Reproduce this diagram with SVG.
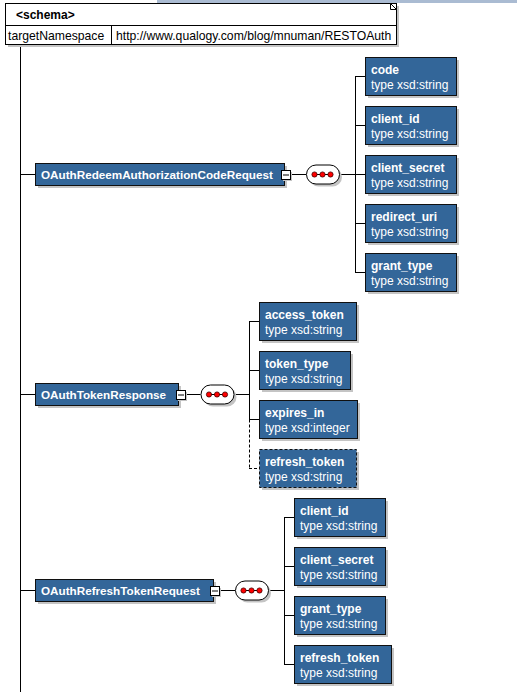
<svg xmlns="http://www.w3.org/2000/svg" width="517" height="692" viewBox="0 0 517 692">
<style>
.bg{fill:#ffffff}
.sh{fill:#c4c4c4}
.box{fill:#336699;stroke:#101010;stroke-width:1}
.dbox{fill:#336699;stroke:#101010;stroke-width:1;stroke-dasharray:3,2}
.nm{font-family:"Liberation Sans",Arial,sans-serif;font-size:12px;font-weight:bold;fill:#ffffff}
.el{font-family:"Liberation Sans",Arial,sans-serif;font-size:11.7px;font-weight:bold;fill:#ffffff}
.ty{font-family:"Liberation Sans",Arial,sans-serif;font-size:12px;fill:#ffffff}
.sc{font-family:"Liberation Sans",Arial,sans-serif;font-size:12.2px;fill:#000000}
.scb{font-family:"Liberation Sans",Arial,sans-serif;font-size:12px;font-weight:bold;fill:#000000}
.ln{stroke:#000000;stroke-width:1;fill:none}
.dl{stroke:#000000;stroke-width:1;fill:none;stroke-dasharray:3,2}
.wb{fill:#ffffff;stroke:#000000;stroke-width:1}
.dot{fill:#ff0000;stroke:#400000;stroke-width:0.8}
</style>
<defs>
<g id="seq">
<rect x="3" y="3" width="33" height="19" rx="9.5" class="sh"/>
<rect x="0.5" y="0.5" width="33" height="19" rx="9.5" class="wb"/>
<line x1="8" y1="10" x2="25" y2="10" class="ln"/>
<circle cx="8.5" cy="10" r="2.6" class="dot"/>
<circle cx="16.5" cy="10" r="2.6" class="dot"/>
<circle cx="24.5" cy="10" r="2.6" class="dot"/>
</g>
<g id="minus">
<rect x="2" y="2" width="9" height="9" class="sh"/>
<rect x="0.5" y="0.5" width="9" height="9" class="wb"/>
<line x1="2" y1="5" x2="8" y2="5" class="ln"/>
</g>
</defs>
<rect x="0" y="0" width="517" height="692" class="bg"/>
<rect x="157" y="0" width="360" height="3" fill="#aabbd2"/>

<g id="connectors">
<line x1="20.5" y1="44" x2="20.5" y2="692" class="ln"/>
<line x1="20" y1="174.5" x2="35" y2="174.5" class="ln"/>
<line x1="20" y1="394.5" x2="35" y2="394.5" class="ln"/>
<line x1="20" y1="590.5" x2="35" y2="590.5" class="ln"/>
<line x1="290" y1="174.5" x2="306" y2="174.5" class="ln"/>
<line x1="339" y1="174.5" x2="355.5" y2="174.5" class="ln"/>
<line x1="355.5" y1="76.5" x2="355.5" y2="272.5" class="ln"/>
<line x1="355" y1="76.5" x2="365" y2="76.5" class="ln"/>
<line x1="355" y1="125.5" x2="365" y2="125.5" class="ln"/>
<line x1="355" y1="223.5" x2="365" y2="223.5" class="ln"/>
<line x1="355" y1="272.5" x2="365" y2="272.5" class="ln"/>
<line x1="355" y1="174.5" x2="365" y2="174.5" class="ln"/>
<line x1="185" y1="394.5" x2="200.5" y2="394.5" class="ln"/>
<line x1="234" y1="394.5" x2="249.5" y2="394.5" class="ln"/>
<line x1="249.5" y1="321.5" x2="249.5" y2="419.5" class="ln"/>
<line x1="249.5" y1="419.5" x2="249.5" y2="468.5" class="dl"/>
<line x1="249" y1="321.5" x2="259" y2="321.5" class="ln"/>
<line x1="249" y1="370.5" x2="259" y2="370.5" class="ln"/>
<line x1="249" y1="419.5" x2="259" y2="419.5" class="ln"/>
<line x1="249" y1="468.5" x2="259" y2="468.5" class="dl"/>
<line x1="219" y1="590.5" x2="235" y2="590.5" class="ln"/>
<line x1="268" y1="590.5" x2="284.5" y2="590.5" class="ln"/>
<line x1="284.5" y1="517.5" x2="284.5" y2="664.5" class="ln"/>
<line x1="284" y1="517.5" x2="294" y2="517.5" class="ln"/>
<line x1="284" y1="566.5" x2="294" y2="566.5" class="ln"/>
<line x1="284" y1="615.5" x2="294" y2="615.5" class="ln"/>
<line x1="284" y1="664.5" x2="294" y2="664.5" class="ln"/>
</g>

<g id="schema">
<rect x="8" y="6" width="391" height="41" class="sh"/>
<rect x="5.5" y="3.5" width="391" height="41" fill="#ffffff" stroke="#000" stroke-width="1"/>
<line x1="5.5" y1="25.5" x2="396.5" y2="25.5" class="ln"/>
<line x1="111.5" y1="25.5" x2="111.5" y2="44.5" class="ln"/>
<path d="M390.5 3.5 L396.5 9.5 L390.5 9.5 Z" fill="#ffffff" stroke="#000" stroke-width="1"/>
<text x="16" y="19" class="scb">&lt;schema&gt;</text>
<text x="8" y="40" class="sc">targetNamespace</text>
<text x="116" y="40" class="sc">http://www.qualogy.com/blog/mnuman/RESTOAuth</text>
</g>

<g id="OAuthRedeemAuthorizationCodeRequest">
<rect x="38" y="166" width="249" height="22" class="sh"/>
<rect x="35.5" y="163.5" width="249" height="22" class="box"/>
<text x="41" y="179" class="el">OAuthRedeemAuthorizationCodeRequest</text>
<use href="#minus" x="281" y="170"/>
</g>
<g id="seq1"><use href="#seq" x="306" y="164.5"/></g>

<g id="code">
<rect x="368" y="60" width="91" height="38" class="sh"/>
<rect x="365.5" y="57.5" width="91" height="38" class="box"/>
<text x="371" y="74" class="nm">code</text>
<text x="371" y="89" class="ty">type xsd:string</text>
</g>
<g id="client_id_1">
<rect x="368" y="109" width="91" height="38" class="sh"/>
<rect x="365.5" y="106.5" width="91" height="38" class="box"/>
<text x="371" y="123" class="nm">client_id</text>
<text x="371" y="138" class="ty">type xsd:string</text>
</g>
<g id="client_secret_1">
<rect x="368" y="158" width="91" height="38" class="sh"/>
<rect x="365.5" y="155.5" width="91" height="38" class="box"/>
<text x="371" y="172" class="nm">client_secret</text>
<text x="371" y="187" class="ty">type xsd:string</text>
</g>
<g id="redirect_uri">
<rect x="368" y="207" width="91" height="38" class="sh"/>
<rect x="365.5" y="204.5" width="91" height="38" class="box"/>
<text x="371" y="221" class="nm">redirect_uri</text>
<text x="371" y="236" class="ty">type xsd:string</text>
</g>
<g id="grant_type_1">
<rect x="368" y="256" width="91" height="38" class="sh"/>
<rect x="365.5" y="253.5" width="91" height="38" class="box"/>
<text x="371" y="270" class="nm">grant_type</text>
<text x="371" y="285" class="ty">type xsd:string</text>
</g>

<g id="OAuthTokenResponse">
<rect x="38" y="386" width="143" height="22" class="sh"/>
<rect x="35.5" y="383.5" width="143" height="22" class="box"/>
<text x="41" y="399" class="el">OAuthTokenResponse</text>
<use href="#minus" x="176" y="390"/>
</g>
<g id="seq2"><use href="#seq" x="200.5" y="384.5"/></g>

<g id="access_token">
<rect x="262" y="305" width="97" height="38" class="sh"/>
<rect x="259.5" y="302.5" width="97" height="38" class="box"/>
<text x="265" y="319" class="nm">access_token</text>
<text x="265" y="334" class="ty">type xsd:string</text>
</g>
<g id="token_type">
<rect x="262" y="354" width="91" height="38" class="sh"/>
<rect x="259.5" y="351.5" width="91" height="38" class="box"/>
<text x="265" y="368" class="nm">token_type</text>
<text x="265" y="383" class="ty">type xsd:string</text>
</g>
<g id="expires_in">
<rect x="262" y="403" width="98" height="38" class="sh"/>
<rect x="259.5" y="400.5" width="98" height="38" class="box"/>
<text x="265" y="417" class="nm">expires_in</text>
<text x="265" y="432" class="ty">type xsd:integer</text>
</g>
<g id="refresh_token_2">
<rect x="262" y="452" width="97" height="38" class="sh"/>
<rect x="259.5" y="449.5" width="97" height="38" class="dbox"/>
<text x="265" y="466" class="nm">refresh_token</text>
<text x="265" y="481" class="ty">type xsd:string</text>
</g>

<g id="OAuthRefreshTokenRequest">
<rect x="38" y="582" width="178" height="22" class="sh"/>
<rect x="35.5" y="579.5" width="178" height="22" class="box"/>
<text x="41" y="595" class="el">OAuthRefreshTokenRequest</text>
<use href="#minus" x="210" y="586"/>
</g>
<g id="seq3"><use href="#seq" x="235" y="580.5"/></g>

<g id="client_id_3">
<rect x="297" y="501" width="91" height="38" class="sh"/>
<rect x="294.5" y="498.5" width="91" height="38" class="box"/>
<text x="300" y="515" class="nm">client_id</text>
<text x="300" y="530" class="ty">type xsd:string</text>
</g>
<g id="client_secret_3">
<rect x="297" y="550" width="91" height="38" class="sh"/>
<rect x="294.5" y="547.5" width="91" height="38" class="box"/>
<text x="300" y="564" class="nm">client_secret</text>
<text x="300" y="579" class="ty">type xsd:string</text>
</g>
<g id="grant_type_3">
<rect x="297" y="599" width="91" height="38" class="sh"/>
<rect x="294.5" y="596.5" width="91" height="38" class="box"/>
<text x="300" y="613" class="nm">grant_type</text>
<text x="300" y="628" class="ty">type xsd:string</text>
</g>
<g id="refresh_token_3">
<rect x="297" y="648" width="97" height="38" class="sh"/>
<rect x="294.5" y="645.5" width="97" height="38" class="box"/>
<text x="300" y="662" class="nm">refresh_token</text>
<text x="300" y="677" class="ty">type xsd:string</text>
</g>
</svg>
